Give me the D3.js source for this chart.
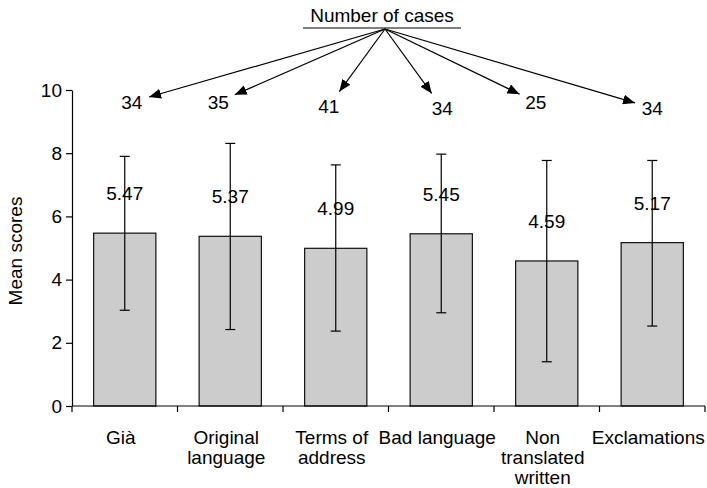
<!DOCTYPE html>
<html>
<head>
<meta charset="utf-8">
<script src="https://cdn.jsdelivr.net/npm/d3@7"></script>
<style>
  body { margin: 0; background: #fff; }
  svg text { font-family: "Liberation Sans", Arial, Helvetica, sans-serif; fill: #000; }
</style>
</head>
<body>
<svg id="chart" width="707" height="488"></svg>
<script>
// ---- data ----
const categories = ["Già", "Original\nlanguage", "Terms of\naddress", "Bad language", "Non\ntranslated\nwritten", "Exclamations"];
const meanScores = [5.47, 5.37, 4.99, 5.45, 4.59, 5.17];
const errHigh = [7.90, 8.31, 7.63, 7.97, 7.77, 7.77];
const errLow = [3.03, 2.42, 2.37, 2.95, 1.40, 2.53];
const caseCounts = [34, 35, 41, 34, 25, 34];
const yTicks = [0, 2, 4, 6, 8, 10];
const yTitle = "Mean scores";
const annotationTitle = "Number of cases";

// ---- layout (not data) ----
const countNudgeX = [7, -12, -7, 1, -11, 0];
const countLevel = [9.62, 9.62, 9.49, 9.43, 9.62, 9.43];

const svg = d3.select("#chart");
const font = 19;

const x = d3.scaleBand().domain(categories).range([72, 705]).padding(0);
const y = d3.scaleLinear().domain([0, 10]).range([406, 90]);
const barW = x.bandwidth() * 0.59;
const cx = c => x(c) + x.bandwidth() / 2;

// bars
svg.append("g").selectAll("rect").data(categories).join("rect")
  .attr("x", c => cx(c) - barW / 2)
  .attr("y", (c, i) => y(meanScores[i]))
  .attr("width", barW)
  .attr("height", (c, i) => y(0) - y(meanScores[i]))
  .attr("fill", "#cccccc")
  .attr("stroke", "#111")
  .attr("stroke-width", 1.2);

// error bars
const eg = svg.append("g").attr("stroke", "#000").attr("stroke-width", 1.2);
categories.forEach((c, i) => {
  const px = cx(c);
  eg.append("line").attr("x1", px).attr("x2", px).attr("y1", y(errHigh[i])).attr("y2", y(errLow[i]));
  eg.append("line").attr("x1", px - 5).attr("x2", px + 5).attr("y1", y(errHigh[i])).attr("y2", y(errHigh[i]));
  eg.append("line").attr("x1", px - 5).attr("x2", px + 5).attr("y1", y(errLow[i])).attr("y2", y(errLow[i]));
});

// y axis
const yAxis = svg.append("g").attr("transform", "translate(72,0)")
  .call(d3.axisLeft(y).tickValues(yTicks).tickFormat(d3.format("d")).tickSize(6).tickSizeOuter(0).tickPadding(4));
yAxis.selectAll("text").attr("font-size", font).style("font-family", "Liberation Sans, Arial, sans-serif");
yAxis.selectAll("line,path").attr("stroke", "#000").attr("stroke-width", 1.2);

// x axis (line with ticks at category boundaries)
const xg = svg.append("g").attr("stroke", "#000").attr("stroke-width", 1.2);
xg.append("line").attr("x1", x.range()[0]).attr("x2", x.range()[1]).attr("y1", y(0)).attr("y2", y(0));
const bounds = categories.map(c => x(c)).concat([x.range()[1]]);
xg.selectAll("line.tick").data(bounds).join("line").attr("class", "tick")
  .attr("x1", d => d).attr("x2", d => d).attr("y1", y(0)).attr("y2", y(0) + 6);

// category labels
categories.forEach(c => {
  const t = svg.append("text").attr("text-anchor", "middle").attr("font-size", font)
    .attr("x", cx(c) - 4).attr("y", 444);
  c.split("\n").forEach((line, j) => {
    t.append("tspan").attr("x", cx(c) - 4).attr("dy", j === 0 ? 0 : 20).text(line);
  });
});

// value labels
svg.append("g").selectAll("text").data(categories).join("text")
  .attr("text-anchor", "middle").attr("font-size", font)
  .attr("x", c => cx(c))
  .attr("y", (c, i) => y(meanScores[i]) - 33)
  .text((c, i) => meanScores[i].toFixed(2));

// y title
svg.append("text").attr("font-size", font).attr("text-anchor", "middle")
  .attr("transform", `translate(22,${(y(0) + y(10)) / 2 + 3}) rotate(-90)`)
  .text(yTitle);

// annotation
const origin = [385, 29];
svg.append("text").attr("x", 382).attr("y", 22).attr("text-anchor", "middle").attr("font-size", font).text(annotationTitle);
svg.append("line").attr("x1", 303).attr("x2", 461).attr("y1", 28).attr("y2", 28).attr("stroke", "#000").attr("stroke-width", 1.2);

svg.append("defs").append("marker").attr("id", "arrow")
  .attr("viewBox", "0 0 12 10").attr("refX", 12).attr("refY", 5)
  .attr("markerWidth", 12).attr("markerHeight", 10).attr("markerUnits", "userSpaceOnUse")
  .attr("orient", "auto")
  .append("path").attr("d", "M0,0 L12,5 L0,10 Z").attr("fill", "#000");

categories.forEach((c, i) => {
  const lx = cx(c) + countNudgeX[i];
  const ly = y(countLevel[i]);
  svg.append("text").attr("x", lx).attr("y", ly + 7).attr("text-anchor", "middle").attr("font-size", font).text(caseCounts[i]);
  const dx = origin[0] - lx, dy = origin[1] - ly, len = Math.hypot(dx, dy);
  const tx = lx + dx / len * 18, ty = ly + dy / len * 18;
  svg.append("line").attr("x1", origin[0]).attr("y1", origin[1]).attr("x2", tx).attr("y2", ty)
    .attr("stroke", "#000").attr("stroke-width", 1.2).attr("marker-end", "url(#arrow)");
});
</script>
</body>
</html>
